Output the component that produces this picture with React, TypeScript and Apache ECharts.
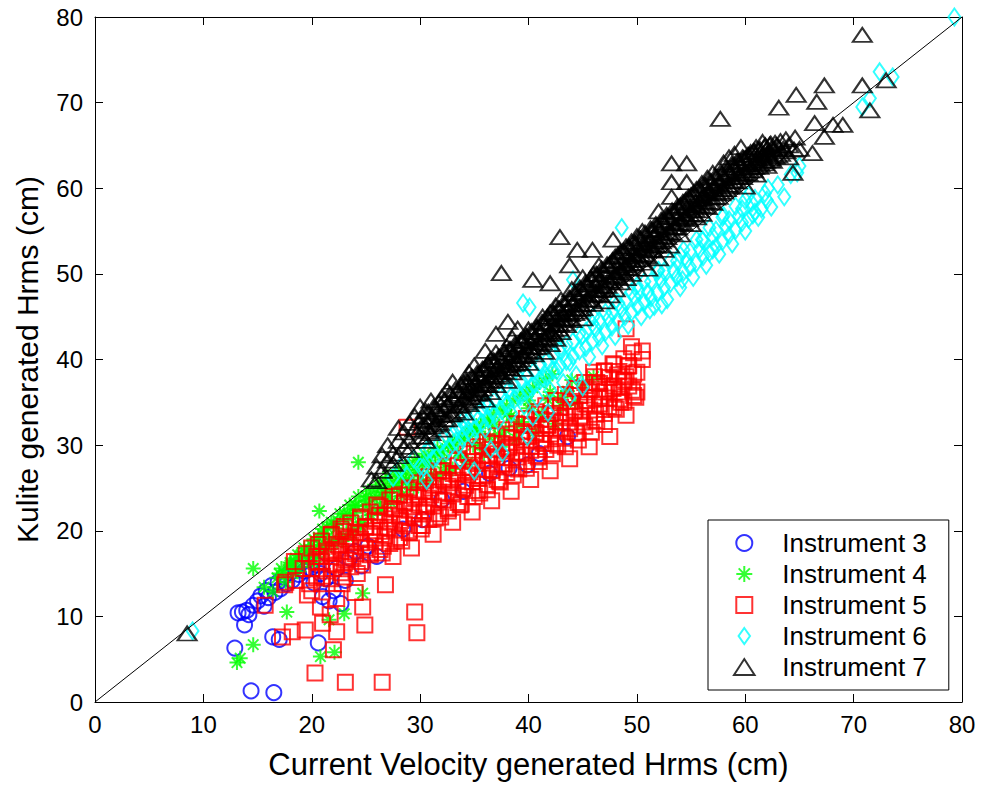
import React, { useEffect, useRef } from "react";
import * as echarts from "echarts";

// ---- Data ----
const xTicks = [0, 10, 20, 30, 40, 50, 60, 70, 80];
const seriesNames = ["Instrument 3", "Instrument 4", "Instrument 5", "Instrument 6", "Instrument 7"];
const diagonal = [[0, 0], [80, 80]];

const inst3: number[][] = [
  [12.9, 6.3], [14.4, 1.3], [16.5, 1.1], [16.4, 7.6], [20.6, 6.9], [13.6, 10.5], [13.8, 9.0], [14.0, 10.7],
  [14.6, 11.3], [14.2, 10.2], [15.0, 11.8], [15.3, 12.4], [15.6, 11.2], [15.8, 13.0], [16.0, 12.2], [16.3, 13.6],
  [16.6, 12.8], [16.9, 14.0], [17.1, 13.2], [17.4, 14.6], [17.7, 13.8], [18.0, 15.1], [18.2, 14.2], [18.5, 15.8],
  [18.8, 14.9], [19.0, 16.2], [19.3, 15.3], [19.6, 16.6], [19.9, 15.6], [20.2, 13.9], [20.5, 16.0], [20.8, 15.0],
  [21.0, 12.3], [21.3, 14.4], [21.6, 11.8], [22.0, 13.0], [22.3, 15.6], [22.7, 11.5], [23.1, 14.2], [23.5, 16.8],
  [24.0, 17.6], [24.6, 15.9], [25.2, 18.2], [26.0, 17.0], [28.4, 20.2], [30.2, 21.3], [32.0, 23.6], [34.0, 24.6],
  [36.4, 26.7], [38.2, 27.3], [39.9, 27.7], [41.0, 29.0], [43.6, 31.0], [17.0, 7.3], [13.2, 10.4],
];

const inst4Spread: number[][] = [
  [13.1, 4.6], [13.4, 5.1], [14.6, 6.7], [14.6, 15.6], [17.7, 10.5], [20.8, 5.3], [22.1, 5.8], [24.7, 12.7],
  [20.7, 22.3], [24.3, 28.0], [16.4, 12.9], [18.5, 16.8], [15.6, 13.4], [21.6, 9.6], [23.0, 10.3],
  [16.8, 14.5], [17.2, 15.6], [17.6, 14.0], [18.0, 16.3], [18.3, 15.0], [18.7, 17.2], [19.0, 15.8], [19.3, 18.0],
  [19.6, 16.5], [19.9, 17.6], [20.2, 19.0], [20.4, 16.9], [20.7, 18.4], [21.0, 20.2], [21.2, 17.7], [21.5, 19.3],
  [21.8, 21.0], [22.0, 18.5], [22.3, 20.3], [22.6, 22.0], [22.9, 19.4], [23.2, 21.2], [23.5, 23.0], [23.8, 20.3],
  [24.0, 22.1], [24.3, 24.0], [24.6, 21.0], [24.9, 22.9], [25.2, 24.6], [25.5, 21.8], [25.8, 23.7], [26.1, 25.4],
  [26.4, 22.6], [26.7, 24.5], [27.0, 26.3], [27.3, 23.3], [27.6, 25.2], [28.0, 27.0], [28.3, 24.1], [28.7, 26.0],
  [29.0, 27.7], [29.4, 25.0], [29.8, 26.8], [30.2, 28.4], [30.6, 25.7], [31.0, 27.5], [31.4, 29.2], [31.8, 26.5],
  [32.2, 28.3], [32.6, 30.0], [33.0, 27.2], [33.5, 29.1], [34.0, 30.8], [34.4, 28.0], [34.9, 30.0], [35.4, 31.6],
  [35.9, 29.0], [36.4, 30.9], [36.9, 32.4], [37.4, 29.8], [37.9, 31.8], [38.4, 33.4], [38.9, 30.7], [39.4, 32.7],
  [40.0, 34.3], [40.6, 31.6], [41.2, 33.6], [41.8, 35.3], [42.4, 32.5], [43.0, 34.6], [43.6, 36.3], [44.3, 35.0],
  [45.0, 37.2], [46.0, 38.0],
];
const inst4Core: number[][] = [
  [17.5, 15.0], [18.1, 16.2], [18.6, 15.2], [19.2, 17.0], [19.7, 17.9], [20.1, 16.3], [20.6, 19.2], [21.1, 18.2],
  [21.4, 20.4], [21.9, 19.0], [22.4, 21.2], [22.8, 18.8], [23.3, 22.0], [23.7, 19.6], [24.1, 22.9], [24.5, 20.6],
  [25.0, 23.5], [25.4, 22.4], [25.9, 24.8], [26.3, 22.6], [26.8, 25.8], [27.2, 24.0], [27.7, 26.6], [28.1, 25.0],
  [28.6, 27.4], [29.0, 25.4], [29.5, 28.2], [30.0, 26.0], [30.4, 29.0], [31.0, 26.6], [31.6, 29.6], [32.3, 27.4],
  [33.0, 30.4], [33.8, 28.8], [34.6, 31.6], [35.5, 30.0], [36.3, 32.6], [37.2, 31.2], [38.0, 33.6], [39.0, 32.3],
  [40.0, 35.2], [41.0, 33.2], [42.0, 36.2], [43.0, 35.6], [44.0, 37.6],
];
const inst4Fill: number[][] = [
  [17.0, 15.0], [18.0, 16.0], [19.0, 17.2], [20.0, 18.3], [21.0, 19.6], [22.0, 20.8], [23.0, 22.0], [24.0, 23.0],
  [25.0, 24.0], [26.0, 23.9], [26.6, 24.5], [27.2, 25.0], [27.8, 25.6], [28.4, 26.1], [29.0, 26.7], [29.6, 27.1],
  [30.2, 27.7], [30.8, 28.2], [31.4, 28.8], [32.0, 29.3], [32.6, 29.9], [33.2, 30.4], [33.8, 30.9], [34.4, 31.5],
  [35.0, 32.0], [35.6, 32.5], [36.2, 33.0], [36.8, 33.6], [37.4, 34.1], [38.0, 34.6], [38.6, 35.2], [39.2, 35.7],
  [39.8, 36.2], [40.4, 36.7], [41.0, 37.3], [41.6, 37.8], [42.2, 38.3],
];

const inst5Spread: number[][] = [
  [20.3, 3.4], [23.1, 2.3], [26.5, 2.3], [29.5, 10.5], [29.7, 8.1], [24.9, 9.0], [24.7, 11.1], [26.8, 13.7],
  [22.0, 6.1], [22.3, 8.2], [21.0, 9.2], [18.2, 8.2], [19.4, 8.4], [17.3, 7.6], [15.7, 11.3], [17.5, 13.7],
  [19.6, 12.5], [20.8, 11.1], [21.7, 10.2], [22.9, 19.9], [20.8, 17.0], [22.3, 12.1], [24.0, 12.8], [22.8, 13.8],
  [18.5, 14.2], [19.2, 15.6], [19.8, 13.8], [20.4, 16.4], [21.0, 14.7], [21.5, 17.4], [22.0, 15.6], [22.5, 18.2],
  [23.0, 16.2], [23.4, 19.3], [23.8, 17.0], [24.2, 15.0], [24.6, 18.6], [25.0, 20.5], [25.4, 17.4], [25.8, 19.6],
  [26.2, 21.8], [26.6, 18.2], [27.0, 20.4], [27.4, 22.6], [27.8, 19.0], [28.2, 21.2], [28.6, 23.4], [29.0, 19.8],
  [29.4, 22.0], [28.8, 32.1], [29.8, 24.2], [30.2, 20.6], [30.6, 22.8], [31.0, 25.0], [31.4, 21.5], [31.8, 23.6],
  [32.2, 25.8], [32.6, 22.3], [33.0, 24.5], [33.4, 26.6], [33.8, 23.1], [34.2, 25.3], [34.6, 27.4], [35.0, 24.0],
  [35.4, 26.1], [35.8, 28.2], [36.2, 24.8], [36.6, 27.0], [37.0, 29.0], [37.4, 25.7], [37.8, 27.8], [38.2, 29.8],
  [38.6, 26.5], [39.0, 28.6], [39.4, 30.6], [39.8, 27.3], [40.2, 29.4], [40.6, 31.5], [41.0, 28.1], [41.4, 30.2],
  [41.8, 32.3], [42.2, 29.0], [42.6, 31.0], [43.0, 33.2], [43.4, 29.8], [43.8, 31.9], [44.2, 34.0], [44.6, 30.6],
  [45.0, 32.7], [45.4, 34.8], [45.8, 31.5], [46.2, 33.6], [46.6, 35.7], [47.0, 32.4], [47.4, 34.5], [47.8, 36.6],
  [48.2, 38.2], [48.4, 35.4], [48.8, 37.4], [49.0, 43.6], [49.2, 39.2], [49.6, 36.4], [50.0, 38.5], [50.5, 41.0],
  [50.5, 40.0], [47.0, 38.6], [46.3, 37.3], [45.5, 36.2], [44.0, 35.8], [42.5, 34.6], [41.0, 33.6], [39.6, 32.4],
  [38.0, 31.3], [36.5, 30.2], [35.0, 29.4], [33.5, 28.2], [32.0, 27.0], [30.5, 25.8], [29.0, 24.8], [27.5, 24.0],
  [26.0, 23.0], [24.5, 21.6], [23.0, 20.5], [21.8, 19.6], [20.6, 18.4], [19.5, 17.3], [18.4, 16.4], [17.6, 14.0],
  [27.5, 17.0], [29.2, 18.0], [31.2, 19.6], [33.0, 21.0], [34.8, 22.2], [36.6, 23.5], [38.4, 24.6], [40.2, 26.0],
  [42.0, 27.0], [43.8, 28.4], [45.6, 29.8], [47.5, 31.0], [49.0, 33.5], [48.5, 35.0], [50.0, 36.2], [44.5, 36.6],
  [46.0, 38.5], [47.8, 39.5], [49.5, 41.5],
];
const inst5Core: number[][] = [
  [20.0, 13.0], [20.0, 15.6], [20.0, 18.0], [20.9, 13.8], [20.9, 16.4], [20.9, 18.8], [21.8, 14.4], [21.8, 17.0],
  [21.8, 19.5], [22.7, 15.1], [22.7, 17.6], [22.7, 20.2], [23.6, 15.8], [23.6, 18.3], [23.6, 20.9], [24.5, 16.4],
  [24.5, 19.0], [24.5, 21.4], [25.4, 17.2], [25.4, 19.7], [25.4, 22.2], [26.3, 17.8], [26.3, 20.4], [26.3, 22.8],
  [27.2, 18.5], [27.2, 21.0], [27.2, 23.6], [28.1, 19.2], [28.1, 21.7], [28.1, 24.2], [29.0, 20.0], [29.0, 22.4],
  [29.0, 25.0], [29.9, 20.6], [29.9, 23.0], [29.9, 25.6], [30.8, 21.3], [30.8, 23.8], [30.8, 26.3], [31.7, 22.0],
  [31.7, 24.5], [31.7, 27.0], [32.6, 22.6], [32.6, 25.2], [32.6, 27.6], [33.5, 23.3], [33.5, 25.9], [33.5, 28.4],
  [34.4, 24.0], [34.4, 26.5], [34.4, 29.0], [35.3, 24.7], [35.3, 27.2], [35.3, 29.8], [36.2, 25.4], [36.2, 27.9],
  [36.2, 30.4], [37.1, 26.0], [37.1, 28.6], [37.1, 31.1], [38.0, 26.8], [38.0, 29.3], [38.0, 31.8], [38.9, 27.4],
  [38.9, 30.0], [38.9, 32.5], [39.8, 28.1], [39.8, 30.6], [39.8, 33.1], [40.7, 28.8], [40.7, 31.4], [40.7, 33.9],
  [41.6, 29.5], [41.6, 32.0], [41.6, 34.6], [42.5, 30.2], [42.5, 32.7], [42.5, 35.2], [43.4, 30.8], [43.4, 33.4],
  [43.4, 35.9], [44.3, 31.5], [44.3, 34.1], [44.3, 36.6], [45.2, 32.2], [45.2, 34.8], [45.2, 37.3], [46.1, 32.9],
  [46.1, 35.5], [46.1, 38.0], [47.0, 33.7], [47.0, 36.2], [47.0, 38.7], [47.9, 34.4], [47.9, 36.9], [47.9, 39.4],
  [48.8, 35.0], [48.8, 37.6], [48.8, 40.1], [49.7, 35.8], [49.7, 38.3], [49.7, 40.8],
];
const inst5Fill: number[][] = [
  [20.45, 14.5], [20.45, 17.0], [21.35, 15.3], [21.35, 17.6], [22.25, 16.0], [22.25, 18.4], [23.15, 16.6], [23.15, 19.0],
  [24.05, 17.3], [24.05, 19.8], [24.95, 18.0], [24.95, 20.4], [25.85, 18.7], [25.85, 21.1], [26.75, 19.4], [26.75, 21.8],
  [27.65, 20.1], [27.65, 22.5], [28.55, 20.8], [28.55, 23.2], [29.45, 21.5], [29.45, 23.9], [30.35, 22.2], [30.35, 24.6],
  [31.25, 22.9], [31.25, 25.3], [32.15, 23.6], [32.15, 26.0], [33.05, 24.3], [33.05, 26.7], [33.95, 25.0], [33.95, 27.4],
  [34.85, 25.7], [34.85, 28.1], [35.75, 26.4], [35.75, 28.8], [36.65, 27.1], [36.65, 29.5], [37.55, 27.8], [37.55, 30.2],
  [38.45, 28.5], [38.45, 30.9], [39.35, 29.2], [39.35, 31.6], [40.25, 29.9], [40.25, 32.3], [41.15, 30.6], [41.15, 33.0],
  [42.05, 31.3], [42.05, 33.7], [42.95, 32.0], [42.95, 34.4], [43.85, 32.7], [43.85, 35.1], [44.75, 33.4], [44.75, 35.8],
  [45.65, 34.1], [45.65, 36.5], [46.55, 34.8], [46.55, 37.2], [47.45, 35.5], [47.45, 37.9], [48.35, 36.2], [48.35, 38.6],
  [49.25, 36.9], [49.25, 39.3],
];
const inst5Fill2: number[][] = [
  [22.0, 17.4], [23.8, 18.6], [25.6, 20.0], [27.4, 21.4], [29.2, 22.8], [31.0, 24.2], [32.8, 25.6], [34.6, 26.9],
  [36.4, 28.3], [38.2, 29.7], [40.0, 31.0], [41.8, 32.4], [43.6, 33.8], [45.4, 35.2], [47.2, 36.5], [49.0, 38.0],
  [22.9, 14.6], [24.7, 16.0], [26.5, 17.4], [28.3, 18.8], [30.1, 20.2], [31.9, 21.6], [33.7, 23.0], [35.5, 24.4],
  [37.3, 25.8], [39.1, 27.2], [40.9, 28.6], [42.7, 30.0], [44.5, 31.4], [46.3, 32.8], [48.1, 34.2], [49.9, 35.6],
];

const inst6Spread: number[][] = [
  [9.0, 8.3], [79.3, 80.0], [72.4, 73.6], [73.6, 73.0], [70.8, 69.5], [71.5, 70.5], [64.8, 61.8], [60.7, 56.9],
  [57.0, 52.8], [54.2, 49.3], [52.3, 46.4], [51.2, 45.8], [48.6, 55.4], [44.1, 49.3], [39.5, 46.6], [40.1, 46.1],
  [30.6, 25.9], [33.7, 28.3], [37.6, 29.1], [39.9, 31.0], [40.4, 33.3], [43.8, 35.6], [45.0, 36.8], [36.5, 29.5],
  [35.0, 27.0], [41.8, 33.8],
  [27.5, 26.2], [28.2, 27.5], [28.8, 26.4], [29.4, 28.4], [30.0, 27.5], [30.6, 29.4], [31.2, 28.3], [31.8, 30.3],
  [32.4, 29.2], [33.0, 31.2], [33.6, 30.0], [34.2, 32.2], [34.8, 31.0], [35.4, 33.1], [36.0, 31.9], [36.6, 34.0],
  [37.2, 32.8], [37.8, 35.0], [38.4, 33.7], [39.0, 36.0], [39.6, 34.6], [40.2, 36.8], [40.8, 35.5], [41.4, 37.8],
  [42.0, 36.4], [42.6, 38.7], [43.2, 37.3], [43.8, 39.7], [44.4, 38.2], [45.0, 42.8], [45.6, 40.3], [46.2, 43.6],
  [46.8, 41.6], [47.4, 44.8], [48.0, 42.7], [48.6, 45.9], [49.2, 44.0], [49.8, 47.3], [50.4, 45.0], [51.0, 47.9],
  [51.6, 46.2], [52.2, 49.3], [52.8, 47.0], [53.4, 50.4], [54.0, 48.4], [54.6, 51.6], [55.2, 49.6], [55.8, 52.9],
  [56.4, 51.0], [57.0, 54.4], [57.6, 52.3], [58.2, 55.6], [58.8, 53.5], [59.4, 56.8], [60.0, 55.0], [60.6, 58.3],
  [61.2, 56.6], [61.8, 59.4], [62.4, 57.8], [63.0, 60.4], [63.6, 59.0], [64.2, 61.6], [65.0, 62.6],
  [41.0, 39.5], [43.0, 41.5], [46.0, 45.0], [48.0, 46.8], [50.0, 48.6], [52.0, 50.4], [54.0, 52.2], [56.0, 54.0],
  [58.0, 56.8], [60.0, 58.6], [38.0, 37.0], [36.0, 34.8], [34.0, 33.0],
];
const inst6Core: number[][] = [
  [33.3, 30.5], [34.5, 31.6], [35.7, 32.6], [36.9, 33.6], [38.1, 34.8], [39.3, 35.7], [40.5, 37.0], [41.7, 38.0],
  [42.9, 39.3], [44.1, 40.4], [45.3, 41.4], [46.5, 42.6], [47.7, 43.8], [48.9, 45.0], [50.1, 46.2], [51.3, 47.2],
  [52.5, 48.4], [53.7, 49.6], [54.9, 50.8], [56.1, 52.0], [57.3, 53.2], [58.5, 54.5], [59.7, 56.0], [60.9, 57.2],
  [62.0, 58.6], [33.9, 32.0], [35.1, 33.5], [36.3, 34.7], [37.5, 35.9], [38.7, 37.0], [39.9, 38.1], [41.1, 39.4],
  [42.3, 40.5], [43.5, 41.8], [44.7, 43.0], [45.9, 44.2], [47.1, 45.5], [48.3, 46.6], [49.5, 47.9], [50.7, 49.1],
  [51.9, 50.3], [53.1, 51.6], [54.3, 52.8], [55.5, 54.0], [56.7, 55.4], [57.9, 56.6], [59.1, 57.9], [60.3, 59.2],
];
const inst6Fill: number[][] = [
  [30.3, 27.4], [31.5, 28.6], [32.7, 29.6], [33.9, 30.8], [35.1, 31.9], [36.3, 33.0], [37.5, 34.1], [38.7, 35.3],
  [39.9, 36.4], [41.1, 37.6], [42.3, 38.7], [43.5, 39.8], [44.7, 41.0], [45.9, 42.1], [47.1, 43.2], [48.3, 44.4],
  [49.5, 45.5], [50.7, 46.7], [51.9, 47.8], [53.1, 48.9], [54.3, 50.2], [55.5, 51.3], [56.7, 52.5], [57.9, 53.8],
  [59.1, 55.1], [60.3, 56.4], [61.5, 57.6], [30.9, 29.6], [32.1, 30.8], [33.3, 31.9], [34.5, 33.0], [35.7, 34.2],
  [36.9, 35.3], [38.1, 36.4], [39.3, 37.6], [40.5, 38.7], [41.7, 39.9], [42.9, 41.0], [44.1, 42.1], [45.3, 43.3],
  [46.5, 44.5], [47.7, 45.6], [48.9, 46.8], [50.1, 48.0], [51.3, 49.1], [52.5, 50.3], [53.7, 51.5], [54.9, 52.6],
  [56.1, 53.9], [57.3, 55.1], [58.5, 56.3], [59.7, 57.6], [60.9, 58.8], [62.1, 60.0],
];

const inst7Spread: number[][] = [
  [8.5, 8.0], [25.5, 26.0], [26.0, 27.5], [26.0, 25.8], [26.5, 28.8], [26.5, 27.0], [27.0, 28.2], [27.0, 30.0],
  [27.5, 29.0], [27.5, 27.8], [28.0, 30.5], [28.0, 28.7], [28.0, 32.0], [28.5, 29.8], [28.5, 31.5], [29.0, 30.5],
  [29.0, 32.6], [29.0, 29.4], [29.5, 31.8], [29.5, 33.4], [30.0, 31.0], [30.0, 32.9], [30.0, 34.5], [30.5, 32.2],
  [30.5, 34.0], [30.5, 30.5], [31.0, 33.0], [31.0, 35.2], [31.0, 31.4], [31.5, 34.2], [31.5, 32.4], [32.0, 33.5],
  [32.0, 35.6], [32.0, 31.8], [32.5, 34.6], [32.5, 36.4], [32.5, 33.0], [33.0, 35.5], [33.0, 33.6], [33.0, 37.4],
  [33.5, 34.6], [33.5, 36.3], [34.0, 35.4], [34.0, 37.3], [34.0, 33.8], [34.5, 36.4], [34.5, 34.8], [34.5, 38.5],
  [35.0, 37.0], [35.0, 35.2], [35.0, 39.3], [35.5, 36.0], [35.5, 38.0], [36.0, 37.2], [36.0, 39.0], [36.0, 35.3],
  [36.0, 41.0], [36.5, 38.0], [36.5, 36.2], [36.5, 40.0], [37.0, 38.8], [37.0, 37.0], [37.0, 40.8], [37.0, 43.0],
  [37.5, 38.0], [37.5, 39.8], [37.5, 50.1], [38.0, 39.3], [38.0, 37.5], [38.0, 41.5], [38.1, 44.4], [38.5, 40.4],
  [38.5, 38.5], [38.5, 42.5], [39.0, 39.6], [39.0, 41.4], [39.0, 43.6], [39.5, 40.5], [39.5, 38.9], [39.5, 42.2],
  [40.0, 41.5], [40.0, 39.6], [40.0, 43.5], [40.4, 49.3], [40.5, 40.6], [40.5, 42.4], [41.0, 41.5], [41.0, 43.2],
  [41.3, 45.0], [41.5, 42.3], [41.5, 40.9], [41.5, 44.2], [42.0, 43.3], [42.0, 41.8], [42.0, 45.5], [42.0, 48.9],
  [42.5, 44.0], [42.5, 42.4], [42.5, 46.3], [42.9, 54.3], [43.0, 44.8], [43.0, 43.2], [43.0, 47.0], [43.5, 45.5],
  [43.5, 44.0], [43.8, 51.0], [44.0, 46.4], [44.0, 44.6], [44.0, 48.2], [44.5, 45.6], [44.5, 47.3], [44.5, 52.8],
  [45.0, 46.0], [45.0, 47.9], [45.0, 44.8], [45.0, 49.6], [45.5, 47.0], [45.5, 48.7], [45.9, 52.8], [46.0, 46.5],
  [46.0, 48.2], [46.0, 50.0], [46.5, 47.6], [46.5, 49.2], [46.5, 51.0], [47.0, 48.2], [47.0, 50.2], [47.0, 46.8],
  [47.5, 49.0], [47.5, 51.2], [47.5, 47.5], [47.8, 54.0], [48.0, 49.8], [48.0, 48.2], [48.0, 52.0], [48.5, 50.4],
  [48.5, 49.0], [48.5, 52.6], [49.0, 51.0], [49.0, 49.5], [49.0, 53.2], [49.5, 51.6], [49.5, 50.0], [49.5, 53.8],
  [50.0, 52.2], [50.0, 50.6], [50.0, 54.4], [50.5, 51.3], [50.5, 53.0], [50.5, 55.0], [51.0, 52.0], [51.0, 53.6],
  [51.0, 50.6], [51.5, 55.1], [51.5, 52.7], [51.5, 54.4], [52.0, 53.4], [52.0, 55.2], [52.0, 51.8], [52.0, 57.3],
  [52.5, 54.0], [52.5, 56.0], [52.5, 52.8], [53.0, 54.8], [53.0, 56.6], [53.0, 53.3], [53.2, 62.9], [53.2, 60.7],
  [53.2, 59.0], [53.5, 55.5], [53.5, 57.3], [54.0, 56.0], [54.0, 58.0], [54.0, 54.6], [54.5, 56.7], [54.5, 58.6],
  [54.6, 62.9], [54.6, 60.7], [55.0, 57.4], [55.0, 55.8], [55.0, 59.2], [55.5, 58.0], [55.5, 56.6], [55.5, 59.9],
  [56.0, 58.8], [56.0, 57.0], [56.0, 60.6], [56.5, 59.4], [56.5, 57.8], [56.5, 61.2], [57.0, 60.0], [57.0, 58.3],
  [57.0, 61.8], [57.5, 60.6], [57.5, 59.0], [57.7, 68.1], [58.0, 61.2], [58.0, 59.6], [58.0, 63.0], [58.5, 61.8],
  [58.5, 60.2], [58.5, 63.6], [59.0, 62.4], [59.0, 60.8], [59.0, 64.0], [59.5, 63.0], [59.5, 61.4], [59.6, 64.8],
  [60.0, 63.5], [60.0, 61.8], [60.0, 60.2], [60.5, 62.4], [60.5, 64.2], [61.0, 63.0], [61.0, 64.8], [61.0, 61.6],
  [61.6, 65.4], [61.5, 63.6], [62.0, 64.0], [62.0, 62.6], [62.5, 64.6], [62.5, 63.2], [62.9, 65.0], [63.0, 63.8],
  [63.1, 69.4], [63.5, 64.6], [64.0, 65.0], [64.0, 63.6], [64.6, 65.9], [64.5, 64.5], [64.7, 70.9], [65.0, 64.6],
  [64.4, 61.8], [66.2, 64.1], [66.4, 67.6], [66.6, 70.1], [67.3, 66.0], [67.3, 72.0], [68.1, 67.4], [69.0, 67.4],
  [70.8, 72.0], [70.8, 77.9], [71.5, 69.1], [73.0, 72.6],
];
const inst7Core: number[][] = [
  [30.25, 31.0], [30.25, 33.3], [30.75, 31.6], [30.75, 33.9], [31.25, 32.2], [31.25, 34.5], [31.75, 32.6], [31.75, 35.0],
  [32.25, 33.0], [32.25, 35.3], [32.75, 33.6], [32.75, 36.0], [33.25, 34.0], [33.25, 36.5], [33.75, 34.6], [33.75, 37.0],
  [34.25, 35.0], [34.25, 37.6], [34.75, 35.6], [34.75, 38.0], [35.25, 36.0], [35.25, 38.4], [35.75, 36.6], [35.75, 38.9],
  [36.25, 37.0], [36.25, 39.5], [36.75, 37.6], [36.75, 39.9], [37.25, 38.2], [37.25, 40.3], [37.75, 38.6], [37.75, 40.8],
  [38.25, 39.0], [38.25, 41.2], [38.75, 39.5], [38.75, 41.8], [39.25, 40.0], [39.25, 42.2], [39.75, 40.4], [39.75, 42.8],
  [40.25, 41.0], [40.25, 43.3], [40.75, 41.4], [40.75, 43.8], [41.25, 42.0], [41.25, 44.4], [41.75, 42.6], [41.75, 45.0],
  [42.25, 43.0], [42.25, 45.5], [42.75, 43.6], [42.75, 46.0], [43.25, 44.2], [43.25, 46.6], [43.75, 44.8], [43.75, 47.2],
  [44.25, 45.4], [44.25, 47.8], [44.75, 45.9], [44.75, 48.4], [45.25, 46.5], [45.25, 49.0], [45.75, 47.0], [45.75, 49.5],
  [46.25, 47.6], [46.25, 50.0], [46.75, 48.1], [46.75, 50.6], [47.25, 48.6], [47.25, 51.1], [47.75, 49.2], [47.75, 51.6],
  [48.25, 49.6], [48.25, 52.2], [48.75, 50.2], [48.75, 52.7], [49.25, 50.7], [49.25, 53.2], [49.75, 51.2], [49.75, 53.7],
  [50.25, 51.7], [50.25, 54.2], [50.75, 52.2], [50.75, 54.8], [51.25, 52.8], [51.25, 55.3], [51.75, 53.3], [51.75, 55.8],
  [52.25, 53.8], [52.25, 56.3], [52.75, 54.3], [52.75, 56.9], [53.25, 54.8], [53.25, 57.4], [53.75, 55.4], [53.75, 57.9],
  [54.25, 55.9], [54.25, 58.4], [54.75, 56.4], [54.75, 59.0], [55.25, 56.9], [55.25, 59.5], [55.75, 57.4], [55.75, 60.0],
  [56.25, 57.9], [56.25, 60.4], [56.75, 58.4], [56.75, 60.9], [57.25, 58.9], [57.25, 61.4], [57.75, 59.4], [57.75, 61.9],
  [58.25, 59.9], [58.25, 62.4], [58.75, 60.4], [58.75, 62.8], [59.25, 60.8], [59.25, 63.2], [59.75, 61.3], [59.75, 63.6],
  [60.25, 61.7], [60.25, 63.9], [60.75, 62.1], [60.75, 64.3], [61.25, 62.5], [61.25, 64.5], [61.75, 62.9], [61.75, 64.8],
  [62.25, 63.3], [62.25, 65.1], [62.75, 63.7], [62.75, 65.3], [63.25, 64.0], [63.25, 65.5], [63.75, 64.3], [63.75, 65.7],
];
const inst7Fill: number[][] = [
  [30.1, 32.1], [30.6, 32.8], [31.1, 33.3], [31.6, 33.8], [32.1, 34.2], [32.6, 34.8], [33.1, 35.3], [33.6, 35.8],
  [34.1, 36.3], [34.6, 36.8], [35.1, 37.2], [35.6, 37.8], [36.1, 38.2], [36.6, 38.8], [37.1, 39.2], [37.6, 39.7],
  [38.1, 40.1], [38.6, 40.6], [39.1, 41.1], [39.6, 41.6], [40.1, 42.1], [40.6, 42.6], [41.1, 43.2], [41.6, 43.8],
  [42.1, 44.2], [42.6, 44.8], [43.1, 45.4], [43.6, 46.0], [44.1, 46.6], [44.6, 47.1], [45.1, 47.7], [45.6, 48.3],
  [46.1, 48.8], [46.6, 49.3], [47.1, 49.9], [47.6, 50.4], [48.1, 50.9], [48.6, 51.4], [49.1, 52.0], [49.6, 52.4],
  [50.1, 53.0], [50.6, 53.5], [51.1, 54.0], [51.6, 54.5], [52.1, 55.1], [52.6, 55.6], [53.1, 56.1], [53.6, 56.6],
  [54.1, 57.1], [54.6, 57.7], [55.1, 58.2], [55.6, 58.7], [56.1, 59.1], [56.6, 59.7], [57.1, 60.2], [57.6, 60.6],
  [58.1, 61.1], [58.6, 61.6], [59.1, 62.0], [59.6, 62.4], [60.1, 62.8], [60.6, 63.2], [61.1, 63.5], [61.6, 63.9],
  [62.1, 64.2], [62.6, 64.5], [63.1, 64.8],
];
const inst7Fill2: number[][] = [
  [34.35, 35.6], [34.35, 37.4], [34.85, 36.1], [34.85, 37.9], [35.35, 36.5], [35.35, 38.3], [35.85, 37.0], [35.85, 38.8],
  [36.35, 37.5], [36.35, 39.3], [36.85, 38.0], [36.85, 39.8], [37.35, 38.5], [37.35, 40.3], [37.85, 39.0], [37.85, 40.8],
  [38.35, 39.4], [38.35, 41.2], [38.85, 39.9], [38.85, 41.7], [39.35, 40.4], [39.35, 42.2], [39.85, 40.9], [39.85, 42.7],
  [40.35, 41.4], [40.35, 43.2], [40.85, 41.9], [40.85, 43.7], [41.35, 42.5], [41.35, 44.3], [41.85, 43.0], [41.85, 44.8],
  [42.35, 43.5], [42.35, 45.3], [42.85, 44.1], [42.85, 45.9], [43.35, 44.7], [43.35, 46.5], [43.85, 45.3], [43.85, 47.1],
  [44.35, 45.9], [44.35, 47.7], [44.85, 46.4], [44.85, 48.2], [45.35, 47.0], [45.35, 48.8], [45.85, 47.5], [45.85, 49.3],
  [46.35, 48.1], [46.35, 49.9], [46.85, 48.6], [46.85, 50.4], [47.35, 49.2], [47.35, 51.0], [47.85, 49.7], [47.85, 51.5],
  [48.35, 50.2], [48.35, 52.0], [48.85, 50.7], [48.85, 52.5], [49.35, 51.2], [49.35, 53.0], [49.85, 51.7], [49.85, 53.5],
  [50.35, 52.3], [50.35, 54.1], [50.85, 52.8], [50.85, 54.6], [51.35, 53.3], [51.35, 55.1], [51.85, 53.8], [51.85, 55.6],
  [52.35, 54.4], [52.35, 56.2], [52.85, 54.9], [52.85, 56.7], [53.35, 55.4], [53.35, 57.2], [53.85, 55.9], [53.85, 57.7],
  [54.35, 56.5], [54.35, 58.3], [54.85, 57.0], [54.85, 58.8], [55.35, 57.5], [55.35, 59.3], [55.85, 58.0], [55.85, 59.8],
  [56.35, 58.5], [56.35, 60.3], [56.85, 59.0], [56.85, 60.8], [57.35, 59.5], [57.35, 61.3], [57.85, 59.9], [57.85, 61.7],
  [58.35, 60.4], [58.35, 62.2], [58.85, 60.9], [58.85, 62.7], [59.35, 61.3], [59.35, 63.1], [59.85, 61.7], [59.85, 63.5],
  [60.35, 62.1], [60.35, 63.9], [60.85, 62.5], [60.85, 64.3], [61.35, 62.8], [61.35, 64.6], [61.85, 63.2], [61.85, 65.0],
  [62.35, 63.5], [62.35, 65.2],
];

const inst4 = [...inst4Spread, ...inst4Core, ...inst4Fill];
const inst5 = [...inst5Spread, ...inst5Core, ...inst5Fill, ...inst5Fill2];
const inst6 = [...inst6Spread, ...inst6Core, ...inst6Fill];
const inst7 = [...inst7Spread, ...inst7Core, ...inst7Fill, ...inst7Fill2];

// ---- Styling ----
const FONT = "'Liberation Sans', Arial, Helvetica, sans-serif";
const SYM_SQUARE = "path://M0,0L10,0L10,10L0,10Z";
const SYM_DIAMOND = "path://M5,0L10,7L5,14L0,7Z";
const SYM_TRIANGLE = "path://M9,0L18,14L0,14Z";
const SYM_STAR = "path://M5,0L5,10M0,5L10,5M1.5,1.5L8.5,8.5M8.5,1.5L1.5,8.5";

const hollow = (c: string) => ({ color: "rgba(0,0,0,0)", borderColor: c, borderWidth: 2 });

export default function App() {
  const ref = useRef<HTMLDivElement>(null);
  useEffect(() => {
    if (!ref.current) return;
    const chart = echarts.init(ref.current, null, { renderer: "svg" });
    const axisCommon = {
      type: "value" as const,
      min: xTicks[0],
      max: xTicks[xTicks.length - 1],
      interval: 10,
      splitLine: { show: false },
      axisLine: { show: true, onZero: false, lineStyle: { color: "#000", width: 1 } },
      axisTick: { show: true, inside: true, length: 8, lineStyle: { color: "#000", width: 1 } },
    };
    const data = [inst3, inst4, inst5, inst6, inst7];
    const symbols = ["circle", SYM_STAR, SYM_SQUARE, SYM_DIAMOND, SYM_TRIANGLE];
    const sizes: any[] = [15, 15, 15, [12, 17], [19, 14]];
    const colors = ["#0000ff", "#00ff00", "#ff0000", "#00ffff", "#000000"];
    const scatterSeries = data.map((d, i) => ({
      name: seriesNames[i],
      type: "scatter",
      data: d,
      symbol: symbols[i],
      symbolSize: sizes[i],
      itemStyle: hollow(colors[i]),
      emphasis: { disabled: true },
      xAxisIndex: 0,
      yAxisIndex: 0,
    }));
    chart.setOption({
      animation: false,
      backgroundColor: "#fff",
      grid: { left: 95, right: 19, top: 17, bottom: 84 },
      xAxis: [
        {
          ...axisCommon,
          position: "bottom",
          axisLabel: { color: "#000", fontSize: 24, fontFamily: FONT, margin: 10 },
          name: "Current Velocity generated Hrms (cm)",
          nameLocation: "middle",
          nameGap: 47,
          nameTextStyle: { color: "#000", fontSize: 31, fontFamily: FONT },
        },
        { ...axisCommon, position: "top", axisLabel: { show: false } },
      ],
      yAxis: [
        {
          ...axisCommon,
          position: "left",
          axisLabel: { color: "#000", fontSize: 24, fontFamily: FONT, margin: 12 },
          name: "Kulite generated Hrms (cm)",
          nameLocation: "middle",
          nameGap: 53,
          nameTextStyle: { color: "#000", fontSize: 30, fontFamily: FONT },
        },
        { ...axisCommon, position: "right", axisLabel: { show: false } },
      ],
      legend: {
        data: seriesNames,
        orient: "vertical",
        left: 708,
        top: 520,
        padding: [10, 22, 10, 25],
        itemWidth: 66,
        itemHeight: 16,
        itemGap: 5,
        borderColor: "#000",
        borderWidth: 1,
        borderRadius: 0,
        backgroundColor: "#fff",
        symbolKeepAspect: true,
        textStyle: { color: "#000", fontSize: 26, fontFamily: FONT },
      },
      series: [
        ...scatterSeries,
        {
          name: "diag",
          type: "line",
          data: diagonal,
          symbol: "none",
          lineStyle: { color: "#000", width: 1 },
          silent: true,
          z: 5,
          xAxisIndex: 0,
          yAxisIndex: 0,
        },
      ],
    });
    return () => chart.dispose();
  }, []);
  return (
    <div
      ref={ref}
      style={{ position: "fixed", left: 0, top: 0, width: "981px", height: "786px", background: "#fff" }}
    />
  );
}
